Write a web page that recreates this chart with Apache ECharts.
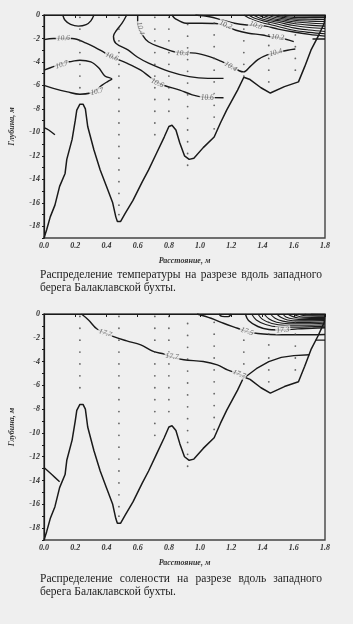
<!DOCTYPE html>
<html>
<head>
<meta charset="utf-8">
<script src="https://cdn.jsdelivr.net/npm/echarts@6/dist/echarts.min.js"></script>
<style>
  html, body { margin: 0; padding: 0; background: #efefef; }
  #chart { width: 353px; height: 624px; }
</style>
</head>
<body>
<div id="chart"></div>
<script>
// sea bottom along the section (distance m, depth m)
var bottomProfile = [[0,-19],[0.017,-18.3],[0.04,-17.2],[0.07,-16.2],[0.1,-14.6],[0.135,-13.5],[0.146,-12.3],
  [0.18,-10.6],[0.2,-9.0],[0.21,-8.1],[0.23,-7.6],[0.25,-7.6],[0.265,-8.0],[0.28,-9.5],[0.32,-11.5],[0.36,-13.2],
  [0.4,-14.6],[0.44,-16],[0.46,-17.2],[0.47,-17.6],[0.49,-17.6],[0.52,-16.9],[0.57,-15.8],[0.63,-14.2],[0.67,-13.2],
  [0.72,-11.8],[0.77,-10.4],[0.8,-9.5],[0.82,-9.4],[0.845,-9.8],[0.87,-10.9],[0.9,-12.0],[0.93,-12.3],[0.96,-12.2],
  [1.02,-11.3],[1.09,-10.4],[1.13,-9.2],[1.17,-8.1],[1.24,-6.4],[1.28,-5.3],[1.32,-5.5],[1.39,-6.2],[1.45,-6.65],
  [1.54,-6.1],[1.63,-5.7],[1.67,-4.4],[1.71,-3.0],[1.755,-1.85],[1.795,-0.7],[1.8,0]];

// stations: distance and sampled depths
var stationX = [0.23, 0.48, 0.71, 0.80, 0.92, 1.09, 1.28, 1.44, 1.61];
var stationDepths = [
  [-0.2,-1.2,-2.2,-3.2,-4.2,-5.2,-6.2],
  [-0.2,-1.2,-2.2,-3.2,-4.2,-5.2,-6.2,-7.2,-8.2,-9.2,-10.2,-11.2,-12.2,-13.2,-14.2,-15.2,-16.2,-17.0],
  [-0.2,-1.2,-2.2,-3.2,-4.2,-5.2,-6.2,-7.2,-8.2,-9.2,-10.2],
  [-0.2,-1.2,-2.2,-3.2,-4.2,-5.2,-6.2,-7.2,-8.2],
  [-0.8,-1.8,-2.8,-3.8,-4.8,-5.8,-6.8,-7.8,-8.8,-9.8,-10.8,-11.8,-12.8],
  [-0.7,-1.7,-2.7,-3.7,-4.7,-5.7,-6.7,-7.7,-8.7,-9.7],
  [-1.2,-2.2,-3.2,-4.2,-5.2],
  [-0.7,-1.7,-2.6,-3.7,-4.7,-5.7],
  [-0.7,-1.7,-2.7,-3.7,-4.7]
];

// temperature isolines
var tempArc = [[0.12,0],[0.135,-0.45],[0.17,-0.8],[0.22,-0.95],[0.27,-0.82],[0.3,-0.5],[0.32,0]];
var temp106a = [[0,-2.1],[0.06,-2.0],[0.18,-2.0],[0.27,-2.4],[0.36,-3.0],[0.44,-3.6],[0.53,-4.1],[0.62,-4.7],
  [0.68,-5.3],[0.75,-5.9],[0.87,-6.4],[0.95,-6.8],[1.02,-7.0],[1.15,-7.05]];
var temp106b = [[0.53,0],[0.5,-0.7],[0.465,-1.3],[0.445,-1.8],[0.46,-2.4],[0.54,-3.0],[0.6,-3.6],[0.67,-4.1],
  [0.8,-4.8],[0.93,-5.25],[1.05,-5.4],[1.15,-5.4]];
var temp104 = [[0.6,0],[0.6,-0.75],[0.63,-1.7],[0.67,-2.3],[0.76,-2.8],[0.84,-3.15],[0.97,-3.25],[1.06,-3.55],
  [1.14,-3.97],[1.2,-4.35],[1.25,-4.75],[1.28,-4.85],[1.32,-4.4],[1.37,-3.8],[1.43,-3.4],[1.49,-3.2],[1.56,-3.0],[1.61,-2.9]];
var temp107 = [[0,-4.7],[0.06,-4.4],[0.12,-4.1],[0.18,-3.95],[0.23,-3.85],[0.3,-4.0],[0.35,-4.5],[0.39,-5.2],
  [0.435,-5.45],[0.41,-5.65],[0.37,-6.0],[0.33,-6.45],[0.3,-6.65],[0.23,-6.75],[0.15,-6.55],[0.06,-6.25],[0,-6.0]];
var tempLeft = [[0,-9.6],[0.03,-9.8],[0.07,-10.2]];
var temp102 = [[0.82,0],[0.84,-0.3],[0.91,-0.7],[1.01,-0.7],[1.1,-0.72],[1.16,-0.9],[1.23,-1.3],[1.31,-1.55],
  [1.4,-1.7],[1.45,-1.85],[1.5,-1.9],[1.6,-2.27]];
var temp100 = [[0.97,0],[1.06,-0.15],[1.14,-0.42],[1.22,-0.7],[1.3,-0.85],[1.36,-0.88],[1.42,-0.95],[1.5,-1.2],
  [1.6,-1.45],[1.7,-1.65],[1.8,-1.8]];
var tempEdge = [[1.72,-2.05],[1.8,-2.05]];
var tempCore = [
  [[1.28,0],[1.32,-0.3],[1.38,-0.6],[1.46,-0.85],[1.6,-1.3],[1.7,-1.48],[1.8,-1.6]],
  [[1.31,0],[1.35,-0.28],[1.41,-0.52],[1.48,-0.72],[1.6,-1.1],[1.7,-1.28],[1.8,-1.4]],
  [[1.34,0],[1.38,-0.25],[1.43,-0.45],[1.5,-0.62],[1.6,-0.9],[1.7,-1.06],[1.8,-1.15]],
  [[1.37,0],[1.41,-0.22],[1.46,-0.4],[1.52,-0.53],[1.6,-0.72],[1.7,-0.86],[1.8,-0.95]],
  [[1.40,0],[1.44,-0.2],[1.48,-0.34],[1.54,-0.45],[1.6,-0.58],[1.7,-0.68],[1.8,-0.75]],
  [[1.43,0],[1.47,-0.17],[1.51,-0.28],[1.56,-0.37],[1.6,-0.45],[1.7,-0.52],[1.8,-0.56]],
  [[1.46,0],[1.5,-0.14],[1.54,-0.22],[1.6,-0.33],[1.7,-0.36],[1.8,-0.38]],
  [[1.5,0],[1.53,-0.1],[1.6,-0.2],[1.8,-0.22]],
  [[1.54,0],[1.57,-0.06],[1.8,-0.1]]
];
var tempLabels = [['10.6',0.124,-1.98],['10.6',0.435,-3.55],['10.6',0.725,-5.8],['10.6',1.046,-7.04],
  ['10.7',0.114,-4.25],['10.7',0.339,-6.53],['10.4',0.617,-1.13],['10.4',0.886,-3.26],['10.4',1.196,-4.4],
  ['10.4',1.485,-3.2],['10.2',1.164,-0.85],['10.2',1.497,-1.9],['10.0',1.357,-0.88]];

// salinity isolines
var saltArc = [[1.12,0],[1.14,-0.2],[1.18,-0.22],[1.2,0]];
var salt177 = [[0.24,0],[0.285,-0.5],[0.34,-1.26],[0.446,-1.9],[0.53,-2.26],[0.62,-2.6],[0.70,-3.15],[0.77,-3.37],
  [0.81,-3.6],[0.896,-3.85],[1.02,-3.99],[1.11,-4.27],[1.175,-4.69],[1.25,-5.05],[1.29,-5.3]];
var salt175 = [[0.98,0],[1.07,-0.36],[1.15,-0.78],[1.24,-1.2],[1.3,-1.48],[1.37,-1.64],[1.45,-1.72],[1.55,-1.75],
  [1.65,-1.75],[1.8,-1.72]];
var salt173 = [[1.29,0],[1.31,-0.55],[1.37,-1.05],[1.44,-1.3],[1.53,-1.34],[1.625,-1.25],[1.72,-1.2],[1.8,-1.15]];
var saltLeft = [[0,-12.9],[0.05,-13.5],[0.1,-14.1]];
var saltEdge = [[1.74,-2.2],[1.8,-2.2]];
var saltIsland = [[1.29,-5.3],[1.36,-4.6],[1.44,-4.0],[1.52,-3.65],[1.6,-3.5],[1.7,-3.43]];
var saltCore = [
  [[1.33,0],[1.36,-0.5],[1.42,-0.88],[1.5,-1.08],[1.6,-1.1],[1.8,-1.02]],
  [[1.37,0],[1.4,-0.45],[1.46,-0.8],[1.54,-0.95],[1.65,-0.95],[1.8,-0.9]],
  [[1.41,0],[1.44,-0.4],[1.49,-0.7],[1.57,-0.82],[1.68,-0.82],[1.8,-0.78]],
  [[1.45,0],[1.48,-0.35],[1.53,-0.6],[1.6,-0.7],[1.7,-0.7],[1.8,-0.67]],
  [[1.49,0],[1.52,-0.3],[1.56,-0.5],[1.63,-0.58],[1.8,-0.56]],
  [[1.53,0],[1.55,-0.25],[1.6,-0.42],[1.67,-0.47],[1.8,-0.46]],
  [[1.56,0],[1.59,-0.2],[1.63,-0.33],[1.7,-0.37],[1.8,-0.37]],
  [[1.6,0],[1.62,-0.15],[1.66,-0.26],[1.8,-0.28]],
  [[1.63,0],[1.66,-0.12],[1.8,-0.19]],
  [[1.67,0],[1.7,-0.08],[1.8,-0.11]],
  [[1.71,0],[1.8,-0.04]]
];
var saltLabels = [['17.7',0.392,-1.6],['17.7',0.82,-3.57],['17.7',1.25,-5.05],['17.5',1.3,-1.48],['17.3',1.53,-1.34]];

var tempCaption = ['Распределение температуры на разрезе вдоль западного', 'берега Балаклавской бухты.'];
var saltCaption = ['Распределение солености на разрезе вдоль западного', 'берега Балаклавской бухты.'];

var tempAngles = [3, -22, -25, 0, 18, 12, -75, -3, -32, 15, -22, -5, -20];
var saltAngles = [-20, -5, -22, -18, 5];

var serif = '"Liberation Serif", "DejaVu Serif", serif';
var ink = '#1a1a1a';
var paper = '#efefef';
var captionFont = '11.5px ' + serif;

function lineSeries(data, idx, width, smooth) {
  return {
    type: 'line',
    xAxisIndex: idx,
    yAxisIndex: idx,
    data: data,
    symbol: 'none',
    smooth: smooth === undefined ? 0.35 : smooth,
    silent: true,
    lineStyle: { color: ink, width: width || 1.4 },
    z: 3
  };
}

function dotSeries(idx) {
  var pts = [];
  stationX.forEach(function (x, i) {
    stationDepths[i].forEach(function (d) { pts.push([x, d]); });
  });
  return {
    type: 'scatter',
    xAxisIndex: idx,
    yAxisIndex: idx,
    data: pts,
    symbolSize: 1.8,
    silent: true,
    itemStyle: { color: '#444' },
    z: 4
  };
}

function labelSeries(idx, labels, angles) {
  return {
    type: 'scatter',
    xAxisIndex: idx,
    yAxisIndex: idx,
    symbolSize: 1,
    silent: true,
    itemStyle: { color: 'rgba(0,0,0,0)' },
    data: labels.map(function (l, i) {
      return { name: l[0], value: [l[1], l[2]], label: { rotate: angles[i] } };
    }),
    label: {
      show: true,
      position: 'inside',
      formatter: '{b}',
      fontFamily: serif,
      fontStyle: 'italic',
      fontSize: 7.5,
      color: '#444',
      backgroundColor: paper,
      padding: [0, 1]
    },
    z: 5
  };
}

function xAxis(idx) {
  return {
    type: 'value', gridIndex: idx, min: 0, max: 1.8, interval: 0.2,
    name: 'Расстояние, м', nameLocation: 'middle', nameGap: 19,
    nameTextStyle: { fontFamily: serif, fontStyle: 'italic', fontWeight: 'bold', fontSize: 8, color: '#333' },
    axisLine: { lineStyle: { color: ink, width: 1.2 } },
    axisTick: { length: 3, lineStyle: { color: ink } },
    axisLabel: {
      margin: 4, fontFamily: serif, fontStyle: 'italic', fontWeight: 'bold', fontSize: 8, color: '#333',
      formatter: function (v) { return v.toFixed(1); }
    },
    splitLine: { show: false }
  };
}

function yAxis(idx) {
  return {
    type: 'value', gridIndex: idx, min: -19, max: 0, interval: 1,
    name: 'Глубина, м', nameLocation: 'middle', nameGap: 28, nameRotate: 90,
    nameTextStyle: { fontFamily: serif, fontStyle: 'italic', fontWeight: 'bold', fontSize: 8, color: '#333' },
    axisLine: { lineStyle: { color: ink, width: 1.2 } },
    axisTick: { length: 2, lineStyle: { color: ink } },
    axisLabel: {
      margin: 4, fontFamily: serif, fontStyle: 'italic', fontWeight: 'bold', fontSize: 8, color: '#333',
      formatter: function (v) { return Math.round(v) % 2 === 0 ? String(Math.round(v)) : ''; }
    },
    splitLine: { show: false }
  };
}

// first line justified between left and right, second line flush left
function caption(lines, y, left, right) {
  var ctx = document.createElement('canvas').getContext('2d');
  ctx.font = captionFont;
  var words = lines[0].split(' ');
  var widths = words.map(function (w) { return ctx.measureText(w).width; });
  var total = widths.reduce(function (a, b) { return a + b; }, 0);
  var gap = (right - left - total) / (words.length - 1);
  var x = left;
  var els = [];
  words.forEach(function (w, i) {
    els.push({ type: 'text', x: x, y: y, style: { text: w, font: captionFont, fill: '#222', verticalAlign: 'middle' } });
    x += widths[i] + gap;
  });
  els.push({ type: 'text', x: left, y: y + 12.5, style: { text: lines[1], font: captionFont, fill: '#222', verticalAlign: 'middle' } });
  return els;
}

var series = [];
series.push(lineSeries(bottomProfile, 0, 1.5, false));
[tempArc, temp106a, temp106b, temp104, temp107, tempLeft, temp102, temp100, tempEdge].forEach(function (d) {
  series.push(lineSeries(d, 0));
});
tempCore.forEach(function (d) { series.push(lineSeries(d, 0, 1.1)); });
series.push(dotSeries(0));
series.push(labelSeries(0, tempLabels, tempAngles));

series.push(lineSeries(bottomProfile, 1, 1.5, false));
[saltArc, salt177, salt175, salt173, saltLeft, saltEdge].forEach(function (d) {
  series.push(lineSeries(d, 1));
});
series.push(lineSeries(saltIsland, 1, 1.4, false));
saltCore.forEach(function (d) { series.push(lineSeries(d, 1, 1.1)); });
series.push(dotSeries(1));
series.push(labelSeries(1, saltLabels, saltAngles));

var chart = echarts.init(document.getElementById('chart'));
chart.setOption({
  backgroundColor: paper,
  animation: false,
  grid: [
    { left: 44, top: 15, width: 281, height: 223, show: true, borderColor: '#444', borderWidth: 1.4, backgroundColor: 'transparent' },
    { left: 44, top: 314, width: 281, height: 226, show: true, borderColor: '#444', borderWidth: 1.4, backgroundColor: 'transparent' }
  ],
  xAxis: [xAxis(0), xAxis(1)],
  yAxis: [yAxis(0), yAxis(1)],
  graphic: caption(tempCaption, 275, 40, 322).concat(caption(saltCaption, 579, 40, 322)),
  series: series
});
</script>
</body>
</html>
